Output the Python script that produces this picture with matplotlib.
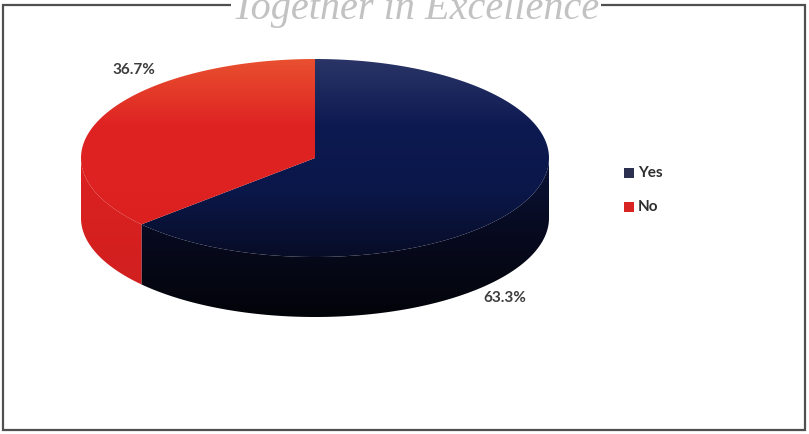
import numpy as np
import matplotlib.pyplot as plt
from matplotlib.patches import Polygon, Rectangle
from matplotlib.colors import LinearSegmentedColormap

labels = ["Yes", "No"]
shares = [63.3, 36.7]
legend_colors = ["#2b3050", "#d92424"]

# pie geometry in pixel units
cx, cy = 315, 158
rx, ry = 234, 99
depth = 60

fig = plt.figure(figsize=(8.09, 4.34), dpi=100)
fig.patch.set_facecolor("white")
ax = fig.add_axes([0, 0, 1, 1])
ax.set_xlim(0, 809)
ax.set_ylim(434, 0)
ax.axis("off")


def arc(t0, t1, dy=0, n=200):
    t = np.radians(np.linspace(t0, t1, n))
    return np.column_stack([cx + rx * np.cos(t), cy - ry * np.sin(t) + dy])


def fill_gradient(verts, stops, y0, y1, z):
    poly = Polygon(verts, closed=True, facecolor="none", edgecolor="none")
    ax.add_patch(poly)
    cmap = LinearSegmentedColormap.from_list("g", stops)
    grad = np.linspace(0, 1, 256).reshape(-1, 1)
    x0, x1 = verts[:, 0].min() - 2, verts[:, 0].max() + 2
    im = ax.imshow(grad, cmap=cmap, extent=(x0, x1, y1, y0), origin="upper",
                   aspect="auto", zorder=z, interpolation="bilinear")
    im.set_clip_path(poly)


# slice angles: first slice starts at 12 o'clock and runs clockwise
angles = []
start = 90.0
for s in shares:
    end = start - s / 100 * 360
    angles.append((end, start))
    start = end

side_stops = {
    "Yes": ["#0a1236", "#070a1e", "#030409"],
    "No": ["#dc2121", "#cf1f1f"],
}
top_stops = {
    "Yes": ["#2a3466", "#0d1a52", "#0b1749", "#070c26"],
    "No": ["#e8502f", "#df2323", "#de2121", "#da2020"],
}

# side walls (front half only)
for lab, (t0, t1) in zip(labels, angles):
    lo = t0 % 360
    hi = lo + (t1 - t0)
    for a0, a1 in [(lo, hi), (lo - 360, hi - 360)]:
        s0, s1 = max(a0, 180), min(a1, 360)
        if s1 <= s0:
            continue
        top = arc(s0, s1)
        bot = arc(s1, s0, dy=depth)
        verts = np.vstack([top, bot])
        fill_gradient(verts, side_stops[lab], cy, cy + ry + depth, 2)

# top faces
for lab, (t0, t1) in zip(labels, angles):
    verts = np.vstack([[cx, cy], arc(t0, t1)])
    fill_gradient(verts, top_stops[lab], cy - ry, cy + ry, 3)

# value labels
lab_font = dict(family="Lato", fontweight="bold", fontsize=11, color="#3c3c3c")
ax.text(134, 70, f"{shares[1]:.1f}%", ha="center", va="center", **lab_font)
ax.text(505, 298, f"{shares[0]:.1f}%", ha="center", va="center", **lab_font)

# legend
for i, (lab, col) in enumerate(zip(labels, legend_colors)):
    y = 173 + 34 * i
    ax.add_patch(Rectangle((624, y - 5), 10, 10, facecolor=col, edgecolor="none"))
    ax.text(638, y, lab, ha="left", va="center", family="Lato",
            fontweight="bold", fontsize=11, color="#2e2e2e")

# chart frame and page header
ax.add_patch(Rectangle((3, 5), 802, 425, facecolor="none", edgecolor="#505050",
                       lw=1.6, zorder=5))
ax.text(416, 19, "Together in Excellence", ha="center", va="baseline",
        family="Liberation Serif", style="italic", fontsize=29, color="#c2c2c2",
        zorder=6, bbox=dict(facecolor="white", edgecolor="none", pad=1))

fig.savefig("out.png", dpi=100, facecolor="white")
